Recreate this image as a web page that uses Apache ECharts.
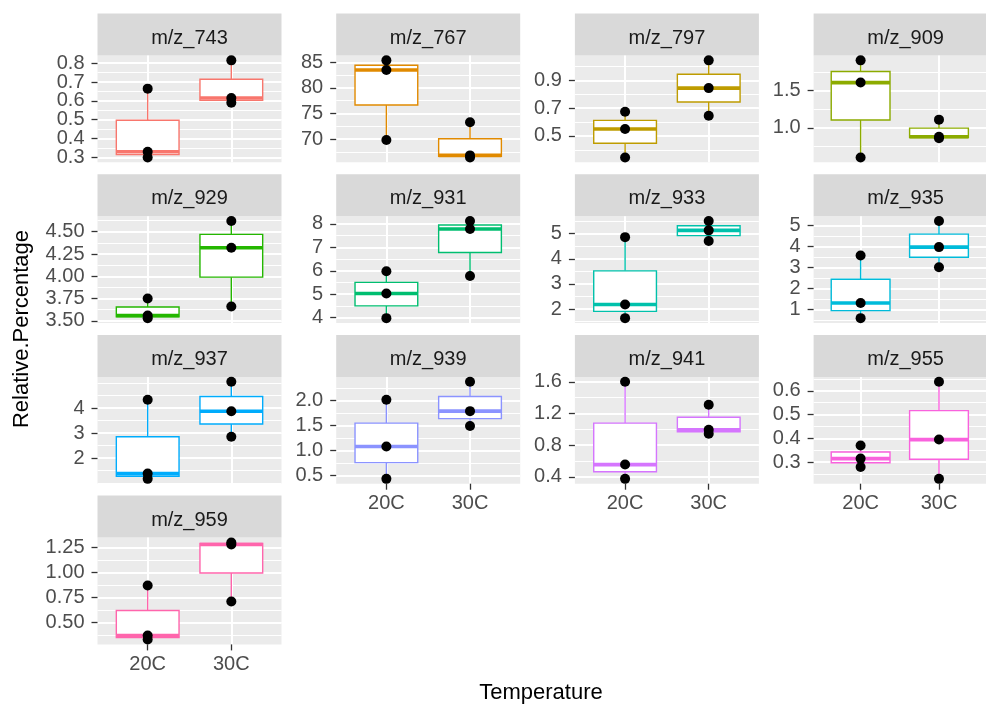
<!DOCTYPE html>
<html><head><meta charset="utf-8">
<script src="https://cdn.jsdelivr.net/npm/echarts@6/dist/echarts.min.js"></script>
<style>html,body{margin:0;padding:0;background:#fff}#c{width:986px;height:710px}</style>
</head><body><div id="c"></div>
<script>
// ---------------- data ----------------
const categories = ['20C', '30C'];
const facetNames = ['m/z_743','m/z_767','m/z_797','m/z_909','m/z_929','m/z_931','m/z_933','m/z_935','m/z_937','m/z_939','m/z_941','m/z_955','m/z_959'];

const pts743_20C = [0.30, 0.33, 0.665];  const pts743_30C = [0.59, 0.615, 0.815];
const pts767_20C = [69.8, 83.5, 85.4];   const pts767_30C = [66.4, 66.8, 73.3];
const pts797_20C = [0.345, 0.55, 0.675]; const pts797_30C = [0.645, 0.845, 1.045];
const pts909_20C = [0.60, 1.61, 1.91];   const pts909_30C = [0.86, 0.88, 1.11];
const pts929_20C = [3.53, 3.56, 3.75];   const pts929_30C = [3.66, 4.32, 4.62];
const pts931_20C = [3.98, 5.03, 5.98];   const pts931_30C = [5.78, 7.78, 8.12];
const pts933_20C = [1.64, 2.18, 4.86];   const pts933_30C = [4.71, 5.13, 5.50];
const pts935_20C = [0.58, 1.30, 3.56];   const pts935_30C = [3.00, 3.96, 5.20];
const pts937_20C = [1.17, 1.38, 4.33];   const pts937_30C = [2.85, 3.87, 5.05];
const pts939_20C = [0.43, 1.08, 2.02];   const pts939_30C = [1.49, 1.79, 2.38];
const pts941_20C = [0.375, 0.555, 1.60]; const pts941_30C = [0.945, 0.995, 1.31];
const pts955_20C = [0.28, 0.315, 0.37];  const pts955_30C = [0.23, 0.395, 0.638];
const pts959_20C = [0.33, 0.37, 0.87];   const pts959_30C = [0.71, 1.28, 1.30];

const ticks743 = ['0.3','0.4','0.5','0.6','0.7','0.8'];
const ticks767 = ['70','75','80','85'];
const ticks797 = ['0.5','0.7','0.9'];
const ticks909 = ['1.0','1.5'];
const ticks929 = ['3.50','3.75','4.00','4.25','4.50'];
const ticks931 = ['4','5','6','7','8'];
const ticks933 = ['2','3','4','5'];
const ticks935 = ['1','2','3','4','5'];
const ticks937 = ['2','3','4'];
const ticks939 = ['0.5','1.0','1.5','2.0'];
const ticks941 = ['0.4','0.8','1.2','1.6'];
const ticks955 = ['0.3','0.4','0.5','0.6'];
const ticks959 = ['0.50','0.75','1.00','1.25'];

const facetPoints = [
  [pts743_20C, pts743_30C], [pts767_20C, pts767_30C], [pts797_20C, pts797_30C], [pts909_20C, pts909_30C],
  [pts929_20C, pts929_30C], [pts931_20C, pts931_30C], [pts933_20C, pts933_30C], [pts935_20C, pts935_30C],
  [pts937_20C, pts937_30C], [pts939_20C, pts939_30C], [pts941_20C, pts941_30C], [pts955_20C, pts955_30C],
  [pts959_20C, pts959_30C]
];
const facetTicks = [ticks743, ticks767, ticks797, ticks909, ticks929, ticks931, ticks933, ticks935, ticks937, ticks939, ticks941, ticks955, ticks959];

// ---------------- styles / layout ----------------
const colors = ['#F8766D','#E18A00','#BE9C00','#8CAB00','#24B700','#00BE70','#00C1AB','#00BBDA','#00ACFC','#8B93FF','#D575FE','#F962DD','#FF65AC'];
const FONT = '"Liberation Sans", Arial, sans-serif';
const COL_X = [97.5, 336.2, 574.9, 813.6];
const ROW_Y = [55.5, 216.2, 376.9, 537.6];
const PW = 184, PH = 106.8, STRIP_H = 42;
const NCOL = 4;

function quantile(s, p) {
  const h = (s.length - 1) * p, lo = Math.floor(h), hi = Math.ceil(h);
  return s[lo] + (h - lo) * (s[hi] - s[lo]);
}
function boxStats(vals) {
  const s = vals.slice().sort((a, b) => a - b);
  const q1 = quantile(s, 0.25), md = quantile(s, 0.5), q3 = quantile(s, 0.75), iqr = q3 - q1;
  const lo = Math.min(...s.filter(v => v >= q1 - 1.5 * iqr));
  const hi = Math.max(...s.filter(v => v <= q3 + 1.5 * iqr));
  return [lo, q1, md, q3, hi];
}

const grids = [], xAxes = [], yAxes = [], series = [], graphics = [];
const n = facetNames.length;
const bottomIdx = new Set();
for (let c = 0; c < NCOL; c++) {
  let last = -1;
  for (let i = c; i < n; i += NCOL) last = i;
  bottomIdx.add(last);
}
const labelStyle = { color: '#4D4D4D', fontSize: 20, fontFamily: FONT, margin: 13, showMinLabel: true, showMaxLabel: true };

facetNames.forEach((name, i) => {
  const r = Math.floor(i / NCOL), c = i % NCOL;
  const left = COL_X[c], top = ROW_Y[r];
  const color = colors[i];
  const groups = facetPoints[i];
  const all = groups.flat();
  const dmin = Math.min(...all), dmax = Math.max(...all), pad = 0.05 * (dmax - dmin);
  const ymin = dmin - pad, ymax = dmax + pad;
  const tickVals = facetTicks[i].map(parseFloat);
  const step = tickVals[1] - tickVals[0];
  const minor = [];
  for (let v = tickVals[0] - step; v <= tickVals[tickVals.length - 1] + step + 1e-9; v += step / 2) {
    const vv = Math.round(v * 1e6) / 1e6;
    if (vv >= ymin && vv <= ymax) minor.push(vv);
  }
  const evenVals = tickVals.filter((v, k) => k % 2 === 0);
  const oddVals = tickVals.filter((v, k) => k % 2 === 1);
  const fmt = v => { const k = tickVals.findIndex(t => Math.abs(t - v) < 1e-6); return k >= 0 ? facetTicks[i][k] : ''; };
  const isBottom = bottomIdx.has(i);

  grids.push({ left: left, top: top, width: PW, height: PH, show: true, backgroundColor: '#EBEBEB', borderWidth: 0, containLabel: false });

  xAxes.push({
    type: 'value', gridIndex: i, min: 0.4, max: 2.6,
    axisLine: { show: false },
    axisTick: { show: isBottom, customValues: [1, 2], length: 6, lineStyle: { color: '#333333', width: 1.3 } },
    axisLabel: { show: isBottom, customValues: [1, 2], formatter: v => categories[Math.round(v) - 1], color: '#4D4D4D', fontSize: 20, fontFamily: FONT, margin: 10 },
    splitLine: { show: true, lineStyle: { color: '#FFFFFF', width: 2 } }
  });
  // minor grid lines
  yAxes.push({
    type: 'value', gridIndex: i, min: ymin, max: ymax, position: 'left',
    axisLine: { show: false },
    axisTick: { show: false, customValues: minor },
    axisLabel: { show: false, customValues: minor },
    splitLine: { show: true, lineStyle: { color: '#FFFFFF', width: 1 } }
  });
  // major ticks, grid lines and every other label
  yAxes.push({
    type: 'value', gridIndex: i, min: ymin, max: ymax, position: 'left',
    axisLine: { show: false },
    axisTick: { show: true, customValues: tickVals, length: 6, lineStyle: { color: '#333333', width: 1.3 } },
    axisLabel: Object.assign({ customValues: evenVals, formatter: fmt }, labelStyle),
    splitLine: { show: true, lineStyle: { color: '#FFFFFF', width: 2 } }
  });
  // remaining labels
  yAxes.push({
    type: 'value', gridIndex: i, min: ymin, max: ymax, position: 'left',
    axisLine: { show: false },
    axisTick: { show: false, customValues: oddVals.length ? oddVals : evenVals },
    axisLabel: Object.assign({ show: oddVals.length > 0, customValues: oddVals.length ? oddVals : evenVals, formatter: fmt }, labelStyle),
    splitLine: { show: false }
  });

  const yIdx = 3 * i + 1;
  const boxes = groups.map((g, k) => [k + 1].concat(boxStats(g)));
  series.push({
    type: 'custom', xAxisIndex: i, yAxisIndex: yIdx, data: boxes, silent: true, z: 2,
    encode: { x: 0, y: [1, 2, 3, 4, 5] },
    renderItem: (params, api) => {
      const x = api.value(0);
      const lo = api.coord([x, api.value(1)]), q1 = api.coord([x, api.value(2)]);
      const md = api.coord([x, api.value(3)]), q3 = api.coord([x, api.value(4)]);
      const hi = api.coord([x, api.value(5)]);
      const hw = api.size([0.75, 0])[0] / 2;
      return { type: 'group', children: [
        { type: 'line', shape: { x1: lo[0], y1: lo[1], x2: q1[0], y2: q1[1] }, style: { stroke: color, lineWidth: 1.4 } },
        { type: 'line', shape: { x1: q3[0], y1: q3[1], x2: hi[0], y2: hi[1] }, style: { stroke: color, lineWidth: 1.4 } },
        { type: 'rect', shape: { x: q1[0] - hw, y: q3[1], width: 2 * hw, height: q1[1] - q3[1] }, style: { fill: '#FFFFFF', stroke: color, lineWidth: 1.4 } },
        { type: 'line', shape: { x1: md[0] - hw, y1: md[1], x2: md[0] + hw, y2: md[1] }, style: { stroke: color, lineWidth: 3.6 } }
      ] };
    }
  });
  const pts = [];
  groups.forEach((g, k) => g.forEach(v => pts.push([k + 1, v])));
  series.push({
    type: 'scatter', xAxisIndex: i, yAxisIndex: yIdx, data: pts, symbolSize: 10, silent: true, z: 3,
    itemStyle: { color: '#000000', opacity: 1 }
  });

  graphics.push({ type: 'rect', shape: { x: left, y: top - STRIP_H, width: PW, height: STRIP_H }, style: { fill: '#D9D9D9' } });
  graphics.push({ type: 'text', x: left + PW / 2, y: top - 17.5, style: { text: name, fill: '#1A1A1A', fontSize: 20, fontFamily: FONT, align: 'center', verticalAlign: 'middle' } });
});

graphics.push({ type: 'text', x: 22, y: 329, rotation: Math.PI / 2, style: { text: 'Relative.Percentage', fill: '#000000', fontSize: 22, fontFamily: FONT, align: 'center', verticalAlign: 'middle' } });
graphics.push({ type: 'text', x: 541, y: 693, style: { text: 'Temperature', fill: '#000000', fontSize: 22, fontFamily: FONT, align: 'center', verticalAlign: 'middle' } });

const chart = echarts.init(document.getElementById('c'), null, { renderer: 'canvas' });
chart.setOption({
  animation: false,
  backgroundColor: '#FFFFFF',
  grid: grids, xAxis: xAxes, yAxis: yAxes, series: series,
  graphic: { elements: graphics }
});
</script></body></html>
